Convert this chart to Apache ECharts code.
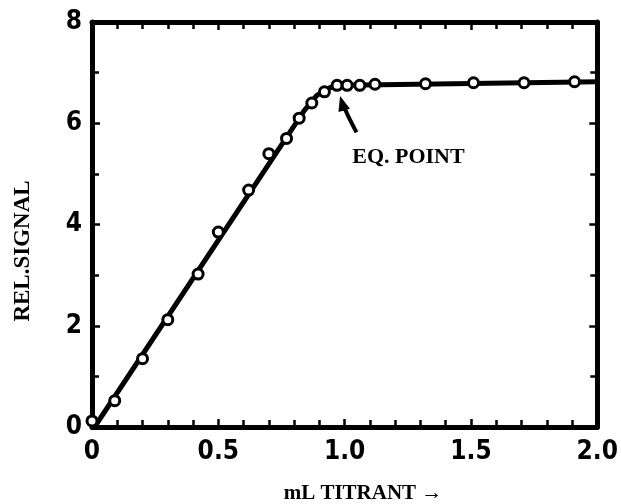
<!DOCTYPE html>
<html>
<head>
<meta charset="utf-8">
<script src="https://cdn.jsdelivr.net/npm/echarts@6/dist/echarts.min.js"></script>
<style>
html, body { margin: 0; padding: 0; background: #fff; }
#chart { width: 621px; height: 504px; }
</style>
</head>
<body>
<div id="chart"></div>
<script>
// measured points (mL titrant vs relative signal)
const titrantMl = [0, 0.09, 0.2, 0.3, 0.42, 0.5, 0.62, 0.7, 0.77, 0.82, 0.87, 0.92, 0.97, 1.01, 1.06, 1.12, 1.32, 1.51, 1.71, 1.91];
const relSignal = [0.12, 0.52, 1.35, 2.12, 3.02, 3.85, 4.68, 5.4, 5.7, 6.1, 6.4, 6.62, 6.75, 6.75, 6.75, 6.77, 6.78, 6.8, 6.8, 6.82];

// drawn titration curve
const fitX = [0.01, 0.84, 0.89, 0.94, 1.0, 2.0];
const fitY = [0, 6.25, 6.55, 6.7, 6.75, 6.82];

const xTickValues = [0, 0.5, 1.0, 1.5, 2.0];
const xTickLabels = ['0', '0.5', '1.0', '1.5', '2.0'];
const yTickValues = [0, 2, 4, 6, 8];
const yTickLabels = ['0', '2', '4', '6', '8'];

// arrow for the equivalence point note (data coords)
const arrowPath = [[1.047, 5.82], [1.016, 6.12], [0.99, 6.4]];
const arrowTip = [0.982, 6.54];

const chart = echarts.init(document.getElementById('chart'));

const tickFont = '"DejaVu Sans Condensed", "DejaVu Sans", sans-serif';
const serifFont = '"Liberation Serif", "DejaVu Serif", serif';

function lookup(values, labels) {
    return (v) => {
        const i = values.findIndex((t) => Math.abs(t - v) < 1e-6);
        return i >= 0 ? labels[i] : '';
    };
}

function frameAxis(position, showLabel, isX) {
    return {
        type: 'value',
        position: position,
        min: 0,
        max: isX ? 2 : 8,
        interval: isX ? 0.5 : 2,
        axisLine: { show: true, onZero: false, lineStyle: { color: '#000', width: 5 } },
        axisTick: { show: true, inside: true, length: 8, lineStyle: { color: '#000', width: 2.5 } },
        minorTick: { show: true, splitNumber: isX ? 5 : 2, length: 7, lineStyle: { color: '#000', width: 2.5 } },
        splitLine: { show: false },
        minorSplitLine: { show: false },
        axisLabel: {
            show: showLabel,
            color: '#000',
            fontFamily: tickFont,
            fontWeight: 'bold',
            fontSize: 26,
            margin: isX ? 12 : 10,
            formatter: isX ? lookup(xTickValues, xTickLabels) : lookup(yTickValues, yTickLabels),
        },
    };
}

const options = {
    animation: false,
    backgroundColor: '#fff',
    grid: { left: 92, right: 18, top: 22, bottom: 77 },
    xAxis: [frameAxis('bottom', true, true), frameAxis('top', false, true)],
    yAxis: [frameAxis('left', true, false), frameAxis('right', false, false)],
    series: [
        {
            type: 'line',
            data: fitX.map((x, i) => [x, fitY[i]]),
            showSymbol: false,
            lineStyle: { color: '#000', width: 5 },
            z: 3,
        },
        {
            type: 'scatter',
            data: titrantMl.map((x, i) => [x, relSignal[i]]),
            symbol: 'circle',
            symbolSize: 10,
            itemStyle: { color: '#fff', borderColor: '#000', borderWidth: 3, opacity: 1 },
            z: 4,
        },
    ],
};

chart.setOption(options);

// annotations placed through the axes
const px = (p) => chart.convertToPixel({ gridIndex: 0 }, p);
const shaft = arrowPath.map(px);
const tip = px(arrowTip);
const last = shaft[shaft.length - 1];
const dx = tip[0] - last[0], dy = tip[1] - last[1];
const len = Math.hypot(dx, dy);
const ux = dx / len, uy = dy / len;
const headLen = 15, headHalf = 6;
const base = [tip[0] - ux * headLen, tip[1] - uy * headLen];
const head = [
    tip,
    [base[0] - uy * headHalf, base[1] + ux * headHalf],
    [base[0] + uy * headHalf, base[1] - ux * headHalf],
];
const labelPos = px([1.03, 5.33]);

chart.setOption({
    graphic: [
        {
            type: 'polyline',
            shape: { points: shaft.concat([base]), smooth: 0.4 },
            style: { stroke: '#000', lineWidth: 4, fill: null },
            z: 10,
        },
        {
            type: 'polygon',
            shape: { points: head },
            style: { fill: '#000' },
            z: 10,
        },
        {
            type: 'text',
            x: labelPos[0],
            y: labelPos[1],
            style: { text: 'EQ. POINT', font: 'bold 22px ' + serifFont, fill: '#000', align: 'left', verticalAlign: 'middle' },
            z: 10,
        },
        {
            type: 'text',
            x: 363,
            y: 494,
            style: { text: 'mL TITRANT \u2192', font: 'bold 21px ' + serifFont, fill: '#000', align: 'center', verticalAlign: 'middle' },
        },
        {
            type: 'text',
            x: 23,
            y: 251,
            rotation: Math.PI / 2,
            style: { text: 'REL.SIGNAL', font: 'bold 23px ' + serifFont, fill: '#000', align: 'center', verticalAlign: 'middle' },
        },
    ],
});
</script>
</body>
</html>
